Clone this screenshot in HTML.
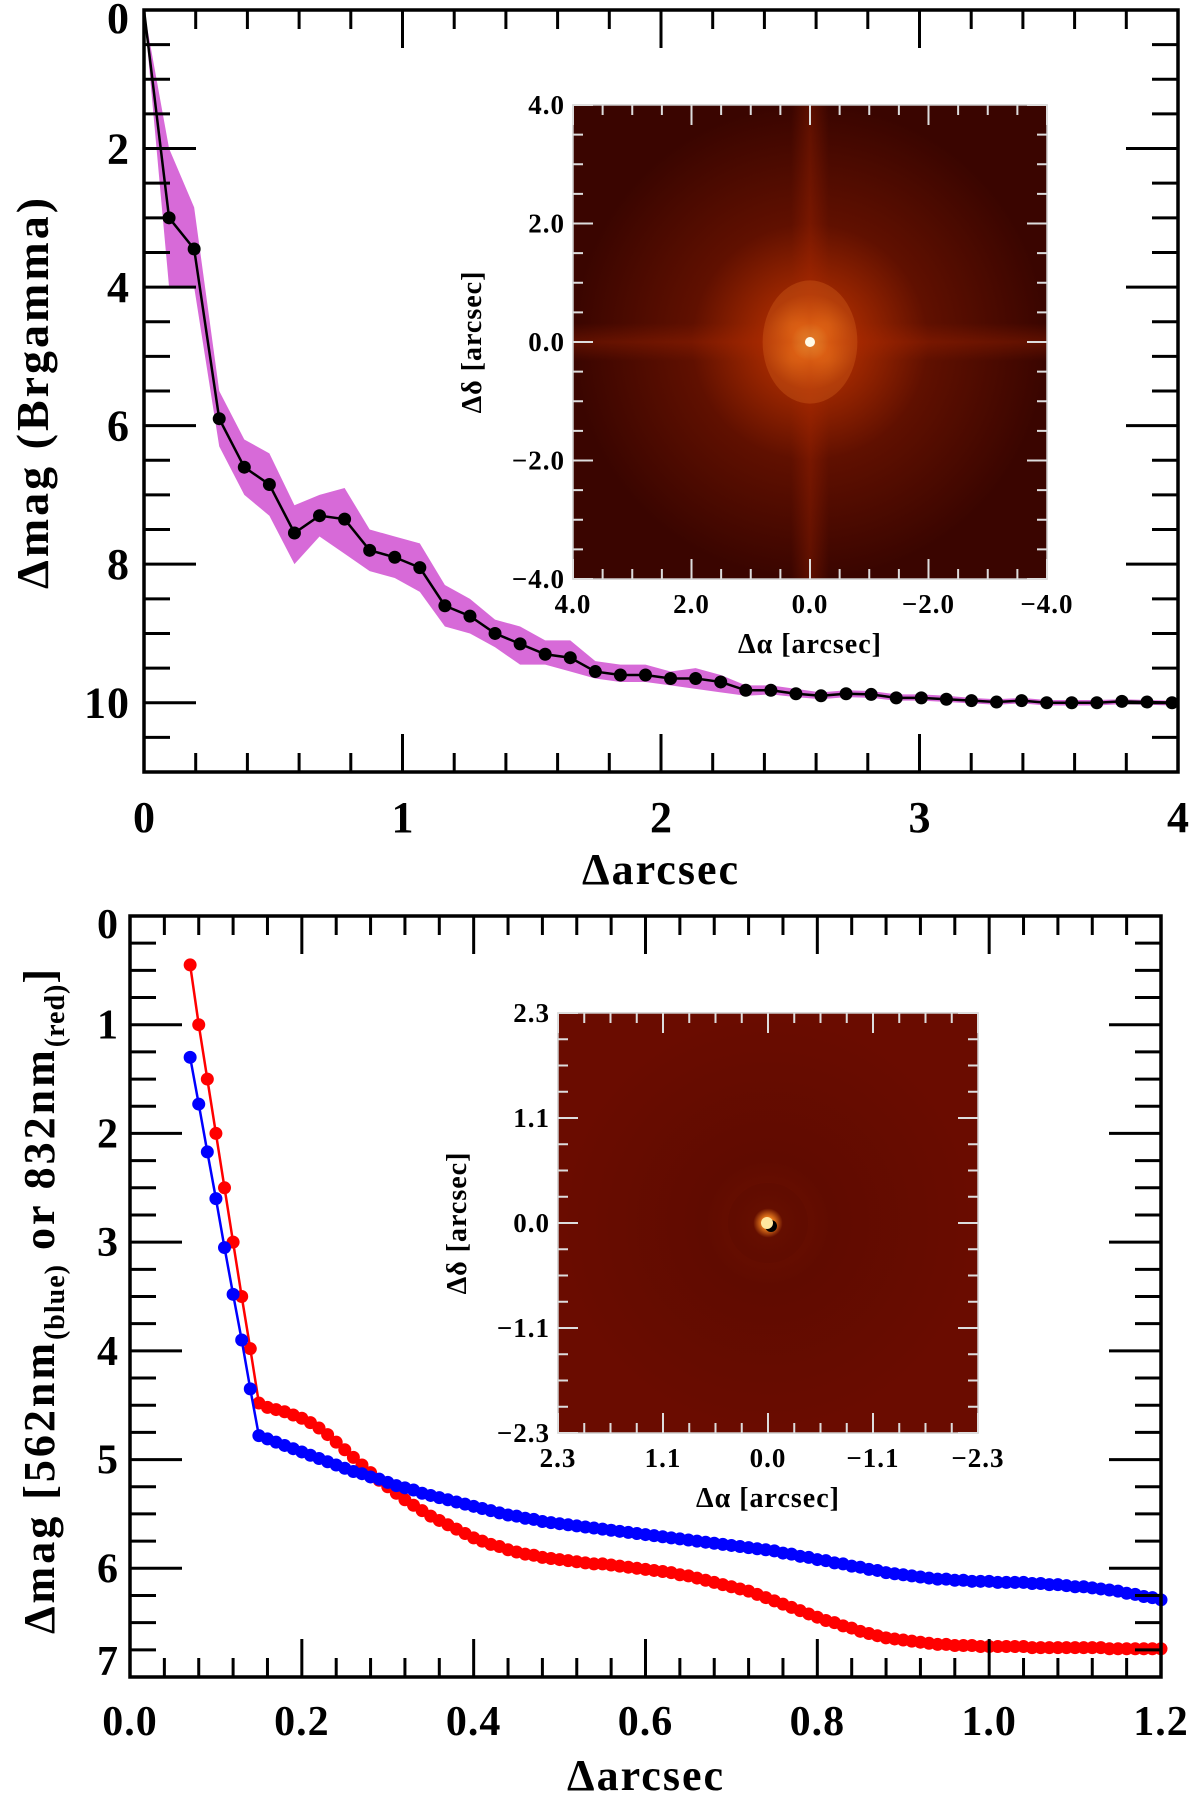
<!DOCTYPE html>
<html><head><meta charset="utf-8"><style>
html,body{margin:0;padding:0;background:#fff;}
svg{display:block;font-family:"Liberation Serif",serif;font-weight:bold;}
</style></head><body>
<svg id="fig" width="1200" height="1799" viewBox="0 0 1200 1799" xmlns="http://www.w3.org/2000/svg">
<defs>
<radialGradient id="g1" cx="0.5" cy="0.5" r="0.5">
<stop offset="0" stop-color="#fffbe0"/><stop offset="0.025" stop-color="#ffb040"/><stop offset="0.08" stop-color="#e06010"/><stop offset="0.2" stop-color="#a02800"/><stop offset="0.5" stop-color="#601000"/><stop offset="1" stop-color="#3a0500"/>
</radialGradient>
<linearGradient id="cross-h" x1="0" y1="0" x2="0" y2="1"><stop offset="0.46" stop-color="#b02800" stop-opacity="0"/><stop offset="0.5" stop-color="#b02800" stop-opacity="0.3"/><stop offset="0.54" stop-color="#b02800" stop-opacity="0"/></linearGradient>
<linearGradient id="cross-v" x1="0" y1="0" x2="1" y2="0"><stop offset="0.46" stop-color="#b02800" stop-opacity="0"/><stop offset="0.5" stop-color="#b02800" stop-opacity="0.3"/><stop offset="0.54" stop-color="#b02800" stop-opacity="0"/></linearGradient>
<radialGradient id="g2" cx="0.5" cy="0.5" r="0.5">
<stop offset="0" stop-color="#fff4c0"/><stop offset="0.03" stop-color="#ff8a20"/><stop offset="0.07" stop-color="#6a1000"/><stop offset="0.3" stop-color="#600b00"/><stop offset="1" stop-color="#6a0c00"/>
</radialGradient>
</defs>
<g id="top"></g>
<g id="bot"></g>
</svg>
<script>
// ---- Top chart data ----
const topX = [0,0.097,0.194,0.291,0.388,0.485,0.582,0.679,0.776,0.873,0.970,1.067,1.164,1.261,1.358,1.455,1.552,1.649,1.746,1.843,1.940,2.037,2.134,2.231,2.328,2.425,2.522,2.619,2.716,2.813,2.910,3.007,3.104,3.201,3.298,3.395,3.492,3.589,3.686,3.783,3.880,3.977];
const topMag = [0,3.0,3.45,5.9,6.6,6.85,7.55,7.3,7.35,7.8,7.9,8.05,8.6,8.75,9.0,9.15,9.3,9.35,9.55,9.6,9.6,9.65,9.65,9.7,9.82,9.82,9.87,9.9,9.87,9.88,9.93,9.93,9.95,9.97,9.99,9.97,10.0,10.0,10.0,9.98,9.99,10.0];
const topUpper = [0,2.0,2.85,5.5,6.2,6.4,7.15,7.0,6.9,7.5,7.6,7.7,8.3,8.5,8.8,8.9,9.1,9.1,9.4,9.45,9.45,9.55,9.5,9.6,9.75,9.75,9.8,9.85,9.82,9.83,9.88,9.88,9.9,9.93,9.95,9.93,9.96,9.96,9.96,9.95,9.96,9.97];
const topLower = [0,4.0,4.0,6.3,7.0,7.3,8.0,7.6,7.85,8.1,8.2,8.4,8.9,9.0,9.2,9.45,9.45,9.55,9.65,9.7,9.7,9.75,9.8,9.85,9.9,9.88,9.92,9.95,9.92,9.93,9.97,9.97,9.99,10.01,10.03,10.01,10.04,10.04,10.04,10.02,10.03,10.04];
const topXTicks = ["0","1","2","3","4"];
const topYTicks = ["0","2","4","6","8","10"];
const topInsetTicks = ["4.0","2.0","0.0","\u22122.0","\u22124.0"];
// ---- Bottom chart data ----
const sparseX = [0.07,0.08,0.09,0.10,0.11,0.12,0.13,0.14];
const redSparse = [0.45,1.0,1.5,2.0,2.5,3.0,3.5,3.98];
const blueSparse = [1.3,1.73,2.17,2.6,3.05,3.48,3.9,4.35];
const redDense = [4.48,4.52,4.54,4.56,4.59,4.62,4.66,4.71,4.77,4.84,4.91,4.98,5.05,5.12,5.19,5.25,5.31,5.37,5.42,5.47,5.52,5.56,5.60,5.64,5.68,5.72,5.75,5.78,5.80,5.83,5.85,5.87,5.88,5.90,5.91,5.92,5.93,5.94,5.95,5.96,5.96,5.97,5.98,5.99,6.00,6.01,6.02,6.03,6.04,6.06,6.07,6.09,6.11,6.13,6.15,6.17,6.19,6.21,6.24,6.27,6.30,6.33,6.36,6.39,6.42,6.45,6.48,6.50,6.53,6.55,6.58,6.60,6.62,6.64,6.65,6.66,6.67,6.68,6.69,6.70,6.70,6.71,6.71,6.71,6.72,6.72,6.72,6.72,6.72,6.72,6.73,6.73,6.73,6.73,6.73,6.73,6.73,6.73,6.73,6.74,6.74,6.74,6.74,6.74,6.74,6.74];
const blueDense = [4.78,4.81,4.84,4.87,4.90,4.93,4.96,4.99,5.02,5.05,5.08,5.11,5.13,5.16,5.18,5.21,5.24,5.26,5.28,5.31,5.33,5.35,5.37,5.39,5.41,5.43,5.45,5.47,5.49,5.51,5.52,5.54,5.55,5.57,5.58,5.59,5.60,5.61,5.62,5.63,5.64,5.65,5.66,5.67,5.68,5.69,5.70,5.71,5.72,5.73,5.74,5.75,5.76,5.77,5.78,5.79,5.80,5.81,5.82,5.83,5.84,5.86,5.87,5.89,5.90,5.92,5.93,5.95,5.96,5.98,5.99,6.01,6.02,6.04,6.05,6.06,6.07,6.08,6.09,6.10,6.10,6.11,6.11,6.12,6.12,6.12,6.13,6.13,6.13,6.13,6.14,6.14,6.15,6.15,6.16,6.17,6.17,6.18,6.19,6.20,6.21,6.23,6.24,6.26,6.27,6.29];
const denseStart = 0.15, denseStep = 0.01;
const botXTicks = ["0.0","0.2","0.4","0.6","0.8","1.0","1.2"];
const botYTicks = ["0","1","2","3","4","5","6","7"];
const botInsetTicks = ["2.3","1.1","0.0","\u22121.1","\u22122.3"];

const NS="http://www.w3.org/2000/svg";
function mk(parent,tag,attrs,text){const e=document.createElementNS(NS,tag);for(const k in attrs)e.setAttribute(k,attrs[k]);if(text!==undefined)e.textContent=text;parent.appendChild(e);return e;}

function axesFrame(g,L,T,R,B,xs,ys,xmaj,xsub,xmin,xmax,ymaj,ysub,ymin,ymax,opt){
  mk(g,'rect',{x:L,y:T,width:R-L,height:B-T,fill:'none',stroke:'#000','stroke-width':3.5});
  for(let v=xmin;v<=xmax+1e-9;v+=xmaj/xsub){
    const n=Math.round((v-xmin)/(xmaj/xsub)); const major=n%xsub===0; const len=major?opt.xMajLen:opt.xMinLen; const px=xs(v);
    mk(g,'line',{x1:px,y1:B,x2:px,y2:B-len,stroke:'#000','stroke-width':3});
    mk(g,'line',{x1:px,y1:T,x2:px,y2:T+len,stroke:'#000','stroke-width':3});
  }
  for(let v=ymin;v<=ymax+1e-9;v+=ymaj/ysub){
    const n=Math.round((v-ymin)/(ymaj/ysub)); const major=n%ysub===0; const len=major?52:26; const py=ys(v);
    mk(g,'line',{x1:L,y1:py,x2:L+len,y2:py,stroke:'#000','stroke-width':3});
    mk(g,'line',{x1:R,y1:py,x2:R-len,y2:py,stroke:'#000','stroke-width':3});
  }
}

function inset(g,L,T,S,range,labels,gradId,isTop){
  const img=mk(g,'g',{});
  
  
  mk(img,'rect',{x:L,y:T,width:S,height:S,fill:'url(#'+gradId+')'});
  if(isTop){
    mk(img,'rect',{x:L,y:T,width:S,height:S,fill:'url(#cross-h)'});
    mk(img,'rect',{x:L,y:T,width:S,height:S,fill:'url(#cross-v)'});
    mk(img,'ellipse',{cx:L+S/2,cy:T+S/2,rx:S*0.1,ry:S*0.13,fill:'#e07020',opacity:0.3});
    mk(img,'circle',{cx:L+S/2,cy:T+S/2,r:5,fill:'#fffbe8'});
  } else {
    mk(img,'circle',{cx:L+S/2,cy:T+S/2,r:40,fill:'#4a0800',opacity:0.15});
    mk(img,'circle',{cx:L+S/2+3,cy:T+S/2+3,r:6,fill:'#000'});
    mk(img,'circle',{cx:L+S/2-1,cy:T+S/2,r:6,fill:'#ffe8a0'});
  }
  mk(g,'rect',{x:L,y:T,width:S,height:S,fill:'none',stroke:'#ccc','stroke-width':1.5});
  const sc=v=>(range-v)/(2*range)*S;
  const maj=range/2;
  for(let i=0;i<=16;i++){
    const v=-range+i*(maj/4); const px=L+sc(v); const py=T+S-sc(v); const major=i%4===0; const len=major?20:10;
    mk(g,'line',{x1:px,y1:T+S,x2:px,y2:T+S-len,stroke:'#ddd','stroke-width':2});
    mk(g,'line',{x1:px,y1:T,x2:px,y2:T+len,stroke:'#ddd','stroke-width':2});
    mk(g,'line',{x1:L,y1:py,x2:L+len,y2:py,stroke:'#ddd','stroke-width':2});
    mk(g,'line',{x1:L+S,y1:py,x2:L+S-len,y2:py,stroke:'#ddd','stroke-width':2});
  }
  labels.forEach((lab,i)=>{
    const v=range-i*maj;
    const tx=mk(g,'text',{x:L+sc(v),y:T+S+34,'text-anchor':'middle','font-size':27,'letter-spacing':1},lab);
    
    
    const ty=mk(g,'text',{x:L-8,y:T+S-sc(-v)+9,'text-anchor':'end','font-size':27,'letter-spacing':1},lab);
    
    
  });
  const xt=mk(g,'text',{x:L+S/2,y:T+S+74,'text-anchor':'middle','font-size':28,'letter-spacing':1},'\u0394\u03b1 [arcsec]');
  
  
  const yx=L-92, yy=T+S/2;
  const yt=mk(g,'text',{x:yx,y:yy,'text-anchor':'middle','font-size':28,'letter-spacing':1,transform:'rotate(-90 '+yx+' '+yy+')'},'\u0394\u03b4 [arcsec]');
  
  
}

// ===== TOP =====
(function(){
  const g=document.getElementById('top');
  const L=144,R=1178,T=10,B=772;
  const xs=v=>L+v/4*(R-L), ys=v=>T+v/11*(B-T);
  let d='M'+xs(topX[0])+' '+ys(topUpper[0]);
  for(let i=1;i<topX.length;i++) d+=' L'+xs(topX[i])+' '+ys(topUpper[i]);
  d+=' L'+xs(4)+' '+ys(topUpper[topUpper.length-1])+' L'+xs(4)+' '+ys(topLower[topLower.length-1]);
  for(let i=topX.length-1;i>=0;i--) d+=' L'+xs(topX[i])+' '+ys(topLower[i]);
  const band=mk(g,'path',{d:d+'Z',fill:'#d76ad8'});
  
  
  let ld='';
  topX.forEach((x,i)=>{ld+=(i?' L':'M')+xs(x)+' '+ys(topMag[i]);});
  ld+=' L'+xs(4)+' '+ys(topMag[topMag.length-1]);
  const line=mk(g,'path',{d:ld,fill:'none',stroke:'#000','stroke-width':2.5});
  
  
  topX.forEach((x,i)=>{ if(i===0) return;
    const c=mk(g,'circle',{cx:xs(x),cy:ys(topMag[i]),r:6.5,fill:'#000'});
    
    
  });
  axesFrame(g,L,T,R,B,xs,ys,1,5,0,4,2,4,0,11,{xMajLen:38,xMinLen:19});
  topXTicks.forEach((t,i)=>{const e=mk(g,'text',{x:xs(i),y:832,'text-anchor':'middle','font-size':44},t);
    
    });
  topYTicks.forEach((t,i)=>{const e=mk(g,'text',{x:130,y:ys(i*2)+15-(i===0?-8:0),'text-anchor':'end','font-size':44,'letter-spacing':1},t);
    
    });
  const xt=mk(g,'text',{x:661,y:884,'text-anchor':'middle','font-size':44,'letter-spacing':2},'\u0394arcsec');
  
  
  const yt=mk(g,'text',{x:48,y:392,'text-anchor':'middle','font-size':46,'letter-spacing':3,transform:'rotate(-90 48 392)'},'\u0394mag (Brgamma)');
  
  
  const ig=mk(g,'g',{});
  
  
  inset(ig,573,105,474,4,topInsetTicks,'g1',true);
})();

// ===== BOTTOM =====
(function(){
  const g=document.getElementById('bot');
  const L=130,R=1161,T=916,B=1677;
  const xs=v=>L+v/1.2*(R-L), ys=v=>T+v/7*(B-T);
  function series(sp,dense,color,name){
    const xsArr=sparseX.concat(dense.map((_,i)=>denseStart+i*denseStep));
    const ysArr=sp.concat(dense);
    let d='';xsArr.forEach((x,i)=>{d+=(i?' L':'M')+xs(x)+' '+ys(ysArr[i]);});
    const p=mk(g,'path',{d:d,fill:'none',stroke:color,'stroke-width':2.5});
    
    
    xsArr.forEach((x,i)=>{
      const c=mk(g,'circle',{cx:xs(x),cy:ys(ysArr[i]),r:6.5,fill:color});
      
      
    });
  }
  series(redSparse,redDense,'#ff0000','red-832nm');
  series(blueSparse,blueDense,'#0000ff','blue-562nm');
  axesFrame(g,L,T,R,B,xs,ys,0.2,5,0,1.2,1,4,0,7,{xMajLen:38,xMinLen:19});
  botXTicks.forEach((t,i)=>{const e=mk(g,'text',{x:xs(i*0.2),y:1735,'text-anchor':'middle','font-size':42,'letter-spacing':1},t);
    
    });
  botYTicks.forEach((t,i)=>{const e=mk(g,'text',{x:118,y:ys(i)+14+(i===0?8:0)-(i===7?16:0),'text-anchor':'end','font-size':42},t);
    
    });
  const xt=mk(g,'text',{x:646,y:1790,'text-anchor':'middle','font-size':44,'letter-spacing':2},'\u0394arcsec');
  
  
  const yt=mk(g,'text',{x:54,y:1300,'text-anchor':'middle','font-size':44,'letter-spacing':3,transform:'rotate(-90 54 1300)'});
  
  
  mk(yt,'tspan',{},'\u0394mag [562nm');
  mk(yt,'tspan',{'font-size':28,dy:10,'letter-spacing':1},'(blue)');
  mk(yt,'tspan',{dy:-10},'  or  832nm');
  mk(yt,'tspan',{'font-size':28,dy:10,'letter-spacing':1},'(red)');
  mk(yt,'tspan',{dy:-10},']');
  const ig=mk(g,'g',{});
  
  
  inset(ig,558,1013,420,2.3,botInsetTicks,'g2',false);
})();
</script>
</body></html>
